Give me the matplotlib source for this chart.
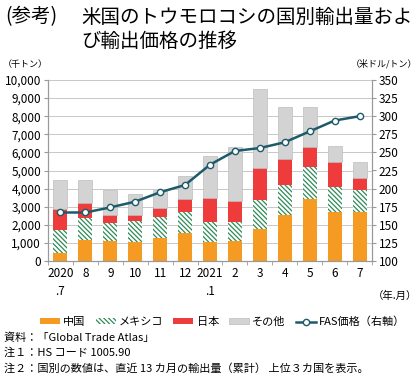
import matplotlib
matplotlib.use("Agg")
import matplotlib.pyplot as plt
import numpy as np

plt.rcParams["font.family"] = ["Noto Sans CJK JP", "DejaVu Sans"]
plt.rcParams["hatch.linewidth"] = 0.9

months = ["2020\n.7", "8", "9", "10", "11", "12", "2021\n.1", "2", "3", "4", "5", "6", "7"]

# cumulative tops (thousand tons)
china = [450, 1170, 1080, 1070, 1290, 1530, 1070, 1100, 1750, 2540, 3410, 2730, 2690]
mexico_top = [1720, 2380, 2080, 2200, 2450, 2710, 2150, 2150, 3370, 4180, 5210, 4070, 3920]
japan_top = [2850, 3200, 2560, 2560, 2910, 3410, 3500, 3330, 5120, 5650, 6320, 5490, 4570]
total = [4450, 4500, 3920, 3700, 3950, 4700, 5800, 6320, 9480, 8490, 8490, 6350, 5470]

fas_price = [167, 167, 174, 182, 195, 205, 233, 252, 256, 264, 279, 294, 300]

china = np.array(china)
mexico = np.array(mexico_top) - china
japan = np.array(japan_top) - np.array(mexico_top)
other = np.array(total) - np.array(japan_top)

ORANGE = "#F59A23"
GREEN = "#2E8B57"
RED = "#EE3B3B"
GRAY = "#D3D3D3"
LINE = "#1D5B6A"

fig = plt.figure(figsize=(4.2, 3.81), dpi=100)
ax = fig.add_axes([48 / 420, 1 - 261 / 381, 324 / 420, 181 / 381])
x = np.arange(len(months))
w = 0.56

ax.bar(x, china, w, color=ORANGE, linewidth=0, label="中国", zorder=2)
ax.bar(x, mexico, w, bottom=china, facecolor="white", edgecolor=GREEN,
       hatch="\\" * 7, linewidth=0, label="メキシコ", zorder=2)
ax.bar(x, japan, w, bottom=mexico_top, color=RED, linewidth=0, label="日本", zorder=2)
ax.bar(x, other, w, bottom=japan_top, facecolor=GRAY, edgecolor="#BDBDBD",
       linewidth=0.5, label="その他", zorder=2)

ax.set_xlim(-0.5, len(months) - 0.5)
ax.set_ylim(0, 10000)
ax.set_yticks(np.arange(0, 10001, 1000))
ax.set_yticklabels([f"{v:,}" for v in range(0, 10001, 1000)], fontsize=8.5)
ax.grid(axis="y", color="#C8C8C8", linewidth=0.7, zorder=0)
ax.set_axisbelow(True)
ax.set_xticks(x)
ax.set_xticklabels(months, fontsize=8.5, linespacing=1.5, va="top")
ax.tick_params(axis="x", length=0, pad=4)
ax.set_xticks(np.arange(-0.5, len(months)), minor=True)
ax.tick_params(axis="x", which="minor", length=3, color="#999999")
ax.tick_params(axis="y", length=3, color="#999999", pad=2)
ax.spines["top"].set_visible(False)
for s in ["left", "right", "bottom"]:
    ax.spines[s].set_color("#999999")
    ax.spines[s].set_linewidth(0.8)

ax2 = ax.twinx()
ax2.plot(x, fas_price, color=LINE, linewidth=1.8, marker="o", markersize=4.5,
         markerfacecolor="white", markeredgecolor=LINE, markeredgewidth=1,
         label="FAS価格（右軸）", zorder=3)
ax2.set_ylim(100, 350)
ax2.set_yticks(np.arange(100, 351, 25))
ax2.tick_params(axis="y", labelsize=8.5, length=3, color="#999999", pad=2)
ax2.spines["top"].set_visible(False)
for s in ["left", "right", "bottom"]:
    ax2.spines[s].set_color("#999999")
    ax2.spines[s].set_linewidth(0.8)

fig.text(5 / 420, 1 - 17 / 381, "(参考)", fontsize=14, va="center")
fig.text(81 / 420, 1 - 17 / 381, "米国のトウモロコシの国別輸出量およ", fontsize=14, va="center")
fig.text(81 / 420, 1 - 41 / 381, "び輸出価格の推移", fontsize=14, va="center")
fig.text(3 / 420, 1 - 64 / 381, "（千トン）", fontsize=6.5, va="center")
fig.text(417 / 420, 1 - 64 / 381, "（米ドル/トン）", fontsize=6.5, va="center", ha="right")
fig.text(417 / 420, 1 - 296 / 381, "（年.月）", fontsize=7.5, va="center", ha="right")

h1, l1 = ax.get_legend_handles_labels()
h2, l2 = ax2.get_legend_handles_labels()
fig.legend(h1 + h2, l1 + l2, loc="center", bbox_to_anchor=(0.53, 1 - 322 / 381),
           ncol=5, frameon=False, fontsize=8, handlelength=1.8, handleheight=0.45,
           columnspacing=0.9, handletextpad=0.3)

notes = ["資料：「Global Trade Atlas」",
         "注１：HS コード 1005.90",
         "注２：国別の数値は、直近 13 カ月の輸出量（累計） 上位３カ国を表示。"]
for i, t in enumerate(notes):
    fig.text(4 / 420, 1 - (338 + 15 * i) / 381, t, fontsize=8, va="center")

fig.savefig("out.png", dpi=100)
